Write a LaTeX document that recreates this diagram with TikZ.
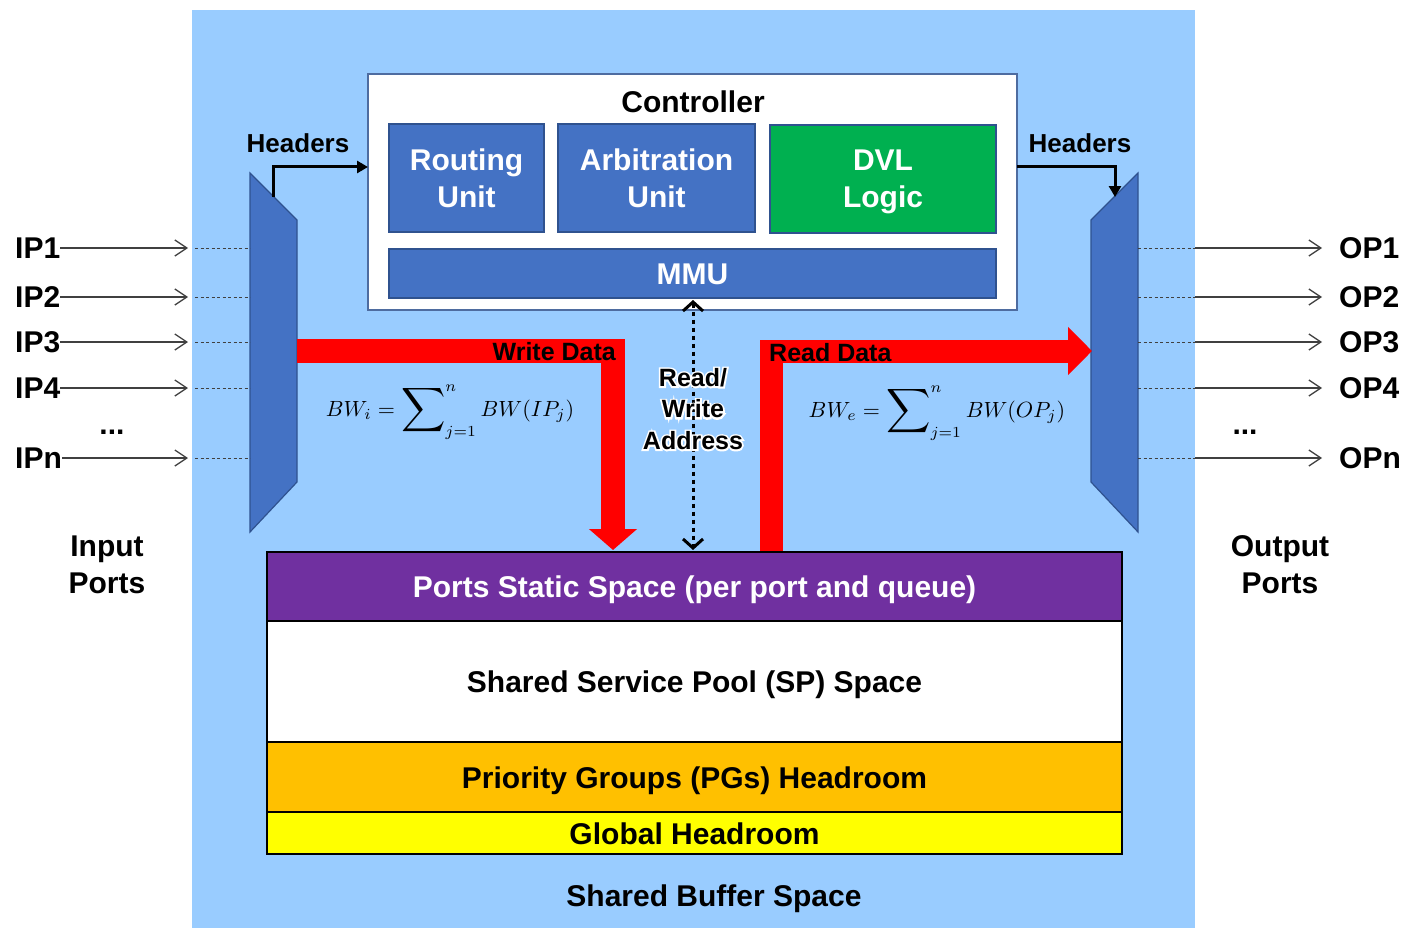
\documentclass[tikz,border=0pt]{standalone}
\usepackage[no-math]{fontspec}
\setmainfont{Liberation Sans}
\newfontface\halofont{Liberation Sans Bold}[FakeBold=14]
\usetikzlibrary{arrows.meta}

\definecolor{bufbg}{HTML}{99CCFF}
\definecolor{unitblue}{HTML}{4472C4}
\definecolor{unitedge}{HTML}{2F528F}
\definecolor{dvlgreen}{HTML}{00B050}
\definecolor{psviolet}{HTML}{7030A0}
\definecolor{pgorange}{HTML}{FFC000}
\definecolor{ghyellow}{HTML}{FFFF00}
\definecolor{portline}{HTML}{404040}

% a larger summation sign, centred on the math axis
\newcommand\largesum{\mathop{\vcenter{\hbox{\scalebox{1.4}{$\displaystyle\sum$}}}}}

\tikzset{
  big/.style={font=\fontsize{30}{37}\selectfont\bfseries, inner sep=0pt, align=center},
  hdrlbl/.style={font=\fontsize{26}{30}\selectfont\bfseries, inner sep=0pt},
  datalbl/.style={font=\fontsize{25}{31.5}\selectfont\bfseries, inner sep=0pt, align=center},
  halolbl/.style={font=\halofont\fontsize{25}{31.5}\selectfont, inner sep=0pt, align=center, text=white},
  unitbox/.style={big, draw=unitedge, line width=1.5pt, fill=unitblue, text=white, text depth=0pt},
  layer/.style={big, draw=black, line width=2pt, minimum width=855pt, text height=22pt, text depth=0pt},
  mux/.style={fill=unitblue, draw=unitedge, line width=1.2pt},
  portarrow/.style={draw=portline, line width=1.3pt,
    -{Straight Barb[length=12pt,width=16pt,line width=1.3pt]}},
  tap/.style={draw=portline, line width=1pt, dash pattern=on 3pt off 2.5pt},
  hdrarrow/.style={line width=3pt, -{Triangle[length=11pt,width=12pt]}},
  dataflow/.style={draw=red, line width=24pt},
  addrline/.style={line width=3pt, dash pattern=on 4pt off 4pt,
    {Straight Barb[length=9pt,width=20pt,line width=3pt]}-{Straight Barb[length=9pt,width=20pt,line width=3pt]}},
  formula/.style={scale=2.2, inner sep=0pt},
}

\begin{document}
\begin{tikzpicture}[x=1pt, y=-1pt]
\useasboundingbox (0,0) rectangle (1404,928);

% shared buffer area
\fill[bufbg] (192,10) rectangle (1195,928);

% controller with its units
\node[draw=unitedge!85, line width=1.3pt, fill=white, minimum width=649pt, minimum height=236pt, inner sep=0pt] (ctrl) at (692.5,192) {};
\node[big, anchor=base] (ctrltitle) at (693,113) {Controller};
\node[unitbox, minimum width=155pt, minimum height=108pt] (route) at (466.5,178) {Routing\\Unit};
\node[unitbox, minimum width=197pt, minimum height=108pt] (arb) at (656.5,178) {Arbitration\\Unit};
\node[unitbox, fill=dvlgreen, minimum width=226pt, minimum height=108pt] (dvl) at (883,179) {DVL\\Logic};
\node[unitbox, minimum width=607pt, minimum height=49pt, text height=22pt] (mmu) at (692.5,273.5) {MMU};

% input and output multiplexers
\coordinate (lmA) at (250,173);
\coordinate (lmB) at (297,220);
\coordinate (lmC) at (297,482);
\coordinate (lmD) at (250,532);
\draw[mux] (lmA) -- (lmB) -- (lmC) -- (lmD) -- cycle;
\coordinate (rmA) at (1138,173);
\coordinate (rmB) at (1091,220);
\coordinate (rmC) at (1091,482);
\coordinate (rmD) at (1138,532);
\draw[mux] (rmA) -- (rmB) -- (rmC) -- (rmD) -- cycle;

% header paths
\node[hdrlbl, anchor=base] (hdrl) at (298,153) {Headers};
\node[hdrlbl, anchor=base] (hdrr) at (1080,153) {Headers};
\coordinate (lhdr) at (273,197);
\coordinate (ctrlin) at (368,167);
\coordinate (ctrlout) at (1017,167);
\coordinate (rhdr) at (1115,197);
\draw[hdrarrow] (lhdr) |- (ctrlin);
\draw[hdrarrow] (ctrlout) -| (rhdr);

% input ports
\foreach \k/\y in {1/248, 2/297, 3/342, 4/388, n/458} {
  \node[big, anchor=base west] (ip\k) at (15,\y+10) {IP\k};
  \coordinate (ipend\k) at (188,\y);
  \coordinate (iptap\k) at (195,\y);
  \coordinate (ipmux\k) at (250,\y);
  \draw[portarrow] (ip\k.east |- ipend\k) -- (ipend\k);
  \draw[tap] (iptap\k) -- (ipmux\k);
}
\node[big, anchor=base] (ipdots) at (112,434) {...};

% output ports
\foreach \k/\y in {1/248, 2/297, 3/342, 4/388, n/458} {
  \node[big, anchor=base west] (op\k) at (1339,\y+10) {OP\k};
  \coordinate (opmux\k) at (1138,\y);
  \coordinate (opedge\k) at (1195,\y);
  \coordinate (opend\k) at (1322,\y);
  \draw[tap] (opmux\k) -- (opedge\k);
  \draw[portarrow] (opedge\k) -- (opend\k);
}
\node[big, anchor=base] (opdots) at (1245,434) {...};

\node[big] (inlbl) at (107,565) {Input\\Ports};
\node[big] (outlbl) at (1280,565) {Output\\Ports};

% data paths
\coordinate (wdin) at (297,351);
\coordinate (wdout) at (613,550);
\draw[dataflow, -{Triangle[length=21pt,width=47pt]}] (wdin) -| (wdout);
\coordinate (rdin) at (771.5,552);
\coordinate (rdout) at (1092,351);
\draw[dataflow, line width=23pt, -{Triangle[length=24pt,width=47pt]}] (rdin) |- (rdout);
\node[datalbl, anchor=base east] (wdlbl) at (616,360) {Write Data};
\node[datalbl, anchor=base west] (rdlbl) at (769,361) {Read Data};

% bandwidth formulas
\node[formula, anchor=base] (bwi) at (450,416) {$BW_i = \largesum\nolimits_{j=1}^{n} BW(IP_j)$};
\node[formula, anchor=base] (bwe) at (937,417) {$BW_e = \largesum\nolimits_{j=1}^{n} BW(OP_j)$};

% address path with a glowing label
\coordinate (addrtop) at (693,300);
\coordinate (addrbot) at (693,550);
\draw[addrline] (addrtop) -- (addrbot);
\node[halolbl] (rwglow) at (693,409) {Read/\\Write\\Address};
\node[datalbl] (rwaddr) at (693,409) {Read/\\Write\\Address};

% buffer partitions
\node[layer, fill=psviolet, text=white, minimum height=69pt] (ps) at (694.5,586.5) {Ports Static Space (per port and queue)};
\node[layer, fill=white, minimum height=121pt] (sp) at (694.5,681.5) {Shared Service Pool (SP) Space};
\node[layer, fill=pgorange, minimum height=70pt] (pg) at (694.5,777) {Priority Groups (PGs) Headroom};
\node[layer, fill=ghyellow, minimum height=42pt] (gh) at (694.5,833) {Global Headroom};
\node[big, anchor=base] (sbs) at (714,906) {Shared Buffer Space};
\end{tikzpicture}
\end{document}
